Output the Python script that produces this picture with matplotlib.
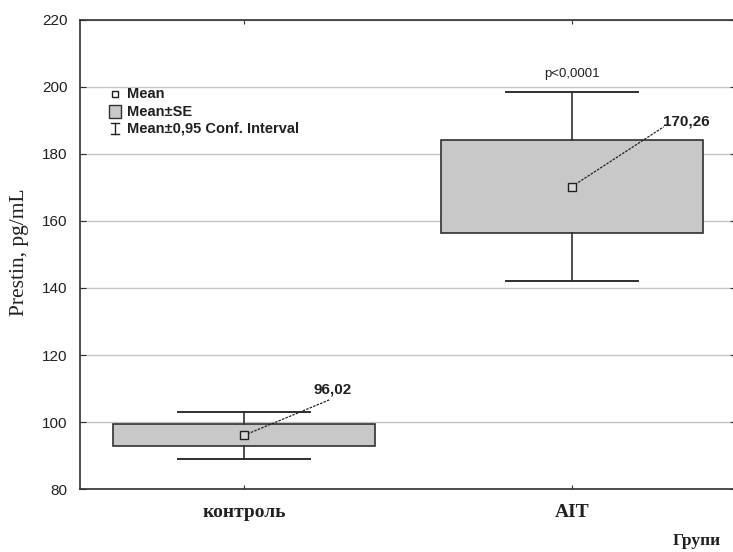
import numpy as np
import matplotlib
matplotlib.use("Agg")
import matplotlib.pyplot as plt
from matplotlib.patches import Rectangle

groups = ["контроль", "AIT"]
means = [96.02, 170.26]
se = [3.3, 14.0]
ci95 = [6.9, 28.2]
mean_labels = ["96,02", "170,26"]
yticks = [80, 100, 120, 140, 160, 180, 200, 220]
legend_labels = ["Mean", "Mean±SE", "Mean±0,95 Conf. Interval"]

sans = "Liberation Sans"
serif = "Liberation Serif"
ink = "#202020"

fig = plt.figure(figsize=(7.33, 5.52), dpi=100)
ax = fig.add_axes([0.109, 0.114, 0.895, 0.850])

box_w = 0.8
cap_w = 0.4
for i, (m, s, c) in enumerate(zip(means, se, ci95)):
    ax.add_patch(Rectangle((i - box_w / 2, m - s), box_w, 2 * s,
                           facecolor="#c8c8c8", edgecolor="#303030", lw=1.2, zorder=3))
    ax.plot([i, i], [m + s, m + c], color="#303030", lw=1.2, zorder=3)
    ax.plot([i, i], [m - s, m - c], color="#303030", lw=1.2, zorder=3)
    ax.plot([i - cap_w / 2, i + cap_w / 2], [m + c, m + c], color="#303030", lw=1.4, zorder=3)
    ax.plot([i - cap_w / 2, i + cap_w / 2], [m - c, m - c], color="#303030", lw=1.4, zorder=3)
    ax.plot(i, m, marker="s", ms=6, mfc="#d8d8d8", mec=ink, mew=1.0, zorder=5)

# mean value callouts
ax.plot([0, 0.26], [means[0], 106.6], ls=(0, (2, 1)), color=ink, lw=0.9, zorder=4)
ax.text(0.27, 109.8, mean_labels[0], fontsize=11, fontfamily=sans, ha="center",
        va="center", color=ink, fontweight="bold")
ax.plot([1, 1.28], [means[1], 188.1], ls=(0, (2, 1)), color=ink, lw=0.9, zorder=4)
ax.text(1.35, 189.7, mean_labels[1], fontsize=11, fontfamily=sans, ha="center",
        va="center", color=ink, fontweight="bold")
ax.text(1, 203.8, "p<0,0001", fontsize=9.5, fontfamily=sans, ha="center", va="center",
        color=ink)

ax.set_xlim(-0.5, 1.5)
ax.set_ylim(80, 220)
ax.set_yticks(yticks)
ax.set_yticklabels([str(v) for v in yticks], fontfamily=sans, fontsize=11, color=ink)
ax.set_xticks([0, 1])
ax.set_xticklabels(groups, fontfamily=serif, fontsize=14, fontweight="bold", color=ink)
ax.tick_params(axis="x", direction="in", length=3, top=True, pad=11, color="#303030")
ax.tick_params(axis="y", direction="in", length=4, right=True, pad=9, color="#303030")
ax.yaxis.grid(True, color="#c4c4c4", lw=1.0)
ax.set_axisbelow(True)
for sp in ["left", "bottom", "top"]:
    ax.spines[sp].set_color("#303030")
    ax.spines[sp].set_linewidth(1.2)
ax.spines["right"].set_visible(False)

ax.set_ylabel("Prestin, pg/mL", fontfamily=serif, fontsize=15.5, color=ink)
ax.yaxis.set_label_coords(-0.078, 0.505)
fig.text(0.951, 0.012, "Групи", fontfamily=serif, fontsize=12.5, fontweight="bold",
         ha="center", va="baseline", color=ink)

# legend, drawn by hand in axes coordinates
tr = ax.transAxes
kx = 0.053
tx = 0.072
rows = [0.842, 0.804, 0.768]
ax.plot(kx, rows[0], marker="s", ms=4.5, mfc="white", mec=ink, mew=1.0,
        transform=tr, clip_on=False)
ax.add_patch(Rectangle((kx - 0.008, rows[1] - 0.014), 0.017, 0.028, transform=tr,
                       facecolor="#c8c8c8", edgecolor="#303030", lw=1.0))
ax.plot([kx, kx], [rows[2] - 0.012, rows[2] + 0.012], color=ink, lw=1.0, transform=tr)
ax.plot([kx - 0.006, kx + 0.006], [rows[2] + 0.012, rows[2] + 0.012], color=ink, lw=1.0,
        transform=tr)
ax.plot([kx - 0.006, kx + 0.006], [rows[2] - 0.012, rows[2] - 0.012], color=ink, lw=1.0,
        transform=tr)
for r, lab in zip(rows, legend_labels):
    ax.text(tx, r, lab, transform=tr, fontfamily=sans, fontsize=10.5, fontweight="bold",
            ha="left", va="center", color=ink)

fig.savefig("out.png", dpi=100)
